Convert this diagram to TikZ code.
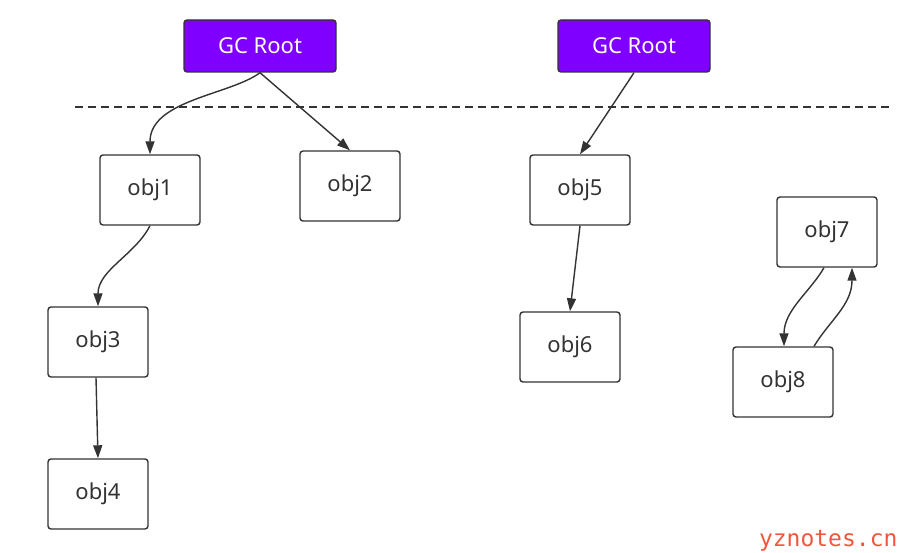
\documentclass[tikz,border=0pt]{standalone}
\usepackage{fontspec}
\setmainfont{Noto Sans}
\newfontfamily\wmfont{DejaVu Sans Mono}
\usetikzlibrary{arrows.meta}
\definecolor{gcpurple}{HTML}{7F00FF}
\definecolor{linec}{HTML}{333333}
\definecolor{wmred}{HTML}{F0563C}
\begin{document}
\begin{tikzpicture}[x=1pt,y=-1pt,
  objbox/.style={draw=linec,line width=1.4pt,rounded corners=3pt,minimum width=100pt,minimum height=70pt,inner sep=0pt,font=\fontsize{22}{26}\selectfont,text=linec},
  gcbox/.style={draw=linec,fill=gcpurple,line width=1.4pt,rounded corners=3pt,minimum width=152pt,minimum height=52pt,inner sep=0pt,font=\fontsize{22}{26}\selectfont,text=white},
  conn/.style={draw=linec,line width=1.4pt,-{Triangle[length=13pt,width=9pt]}}]
\useasboundingbox (0,0) rectangle (916,553);
\node[gcbox] (gc1) at (260,46) {GC Root};
\node[gcbox] (gc2) at (634,46) {GC Root};
\coordinate (dl) at (75,107);
\coordinate (dr) at (890,107);
\draw[linec,line width=1.4pt,dash pattern=on 8pt off 5pt] (dl) -- (dr);
\node[objbox] (o1) at (150,190) {obj1};
\node[objbox] (o2) at (350,186) {obj2};
\node[objbox] (o5) at (580,190) {obj5};
\node[objbox] (o3) at (98,342) {obj3};
\node[objbox] (o4) at (98,494) {obj4};
\node[objbox] (o6) at (570,347) {obj6};
\node[objbox] (o7) at (827,232) {obj7};
\node[objbox] (o8) at (783,382) {obj8};
\draw[conn] (gc1.south) .. controls (230,95) and (150,100) .. (o1.north);
\draw[conn] (gc1.south) -- (o2.north);
\draw[conn] (gc2.south) -- (o5.north);
\draw[conn] (o1.south) .. controls (135,255) and (98,270) .. (o3.north);
\draw[conn] ([xshift=-2pt]o3.south) -- (o4.north);
\draw[conn] (o5.south) -- (o6.north);
\draw[conn] ([xshift=-3pt]o7.south) .. controls (810,292) and (784,310) .. ([xshift=1pt]o8.north);
\draw[conn] ([xshift=31pt]o8.north) .. controls (830,320) and (852,305) .. ([xshift=25pt]o7.south);
\node[text=wmred,font=\wmfont\fontsize{23}{27}\selectfont,anchor=east] (wm) at (901,541) {yznotes.cn};
\end{tikzpicture}
\end{document}
